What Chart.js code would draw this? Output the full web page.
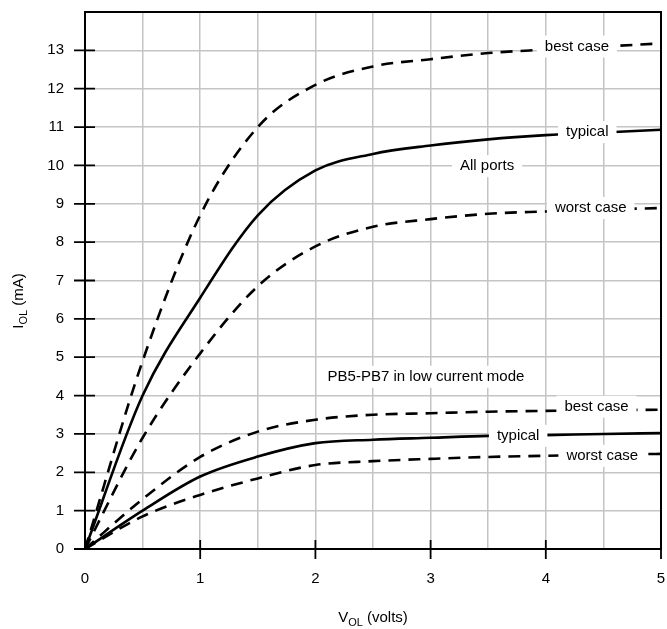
<!DOCTYPE html>
<html>
<head>
<meta charset="utf-8">
<script src="https://cdn.jsdelivr.net/npm/chart.js@4/dist/chart.umd.min.js"></script>
<style>
  body { margin: 0; background: #fff; }
  canvas { display: block; }
</style>
</head>
<body>
<canvas id="chart" width="667" height="629"></canvas>
<script>
// V_OL sample points (volts)
const vol = [0, 0.5, 1, 1.5, 2, 2.5, 3, 3.5, 4, 4.5, 5];

// I_OL (mA), all ports
const allBest = [0, 4.9, 8.7, 11.0, 12.1, 12.58, 12.77, 12.93, 13.02, 13.1, 13.18];
const allTypical = [0, 4.0, 6.55, 8.7, 9.87, 10.3, 10.52, 10.68, 10.79, 10.86, 10.93];
const allWorst = [0, 2.9, 5.1, 6.85, 7.89, 8.4, 8.6, 8.74, 8.8, 8.85, 8.89];

// I_OL (mA), PB5-PB7 in low current mode
const lowBest = [0, 1.3, 2.4, 3.06, 3.37, 3.5, 3.54, 3.58, 3.6, 3.62, 3.63];
const lowTypical = [0, 1.0, 1.89, 2.41, 2.76, 2.85, 2.9, 2.95, 2.97, 3.0, 3.02];
const lowWorst = [0, 0.85, 1.41, 1.84, 2.19, 2.29, 2.35, 2.4, 2.43, 2.46, 2.48];

const xTicks = [0, 1, 2, 3, 4, 5];
const yTicks = [0, 1, 2, 3, 4, 5, 6, 7, 8, 9, 10, 11, 12, 13];

// curve labels: [text, x, y] in data units
const notes = [
  ['best case', 4.27, 13.1],
  ['typical', 4.36, 10.87],
  ['All ports', 3.49, 9.98],
  ['worst case', 4.39, 8.89],
  ['PB5-PB7 in low current mode', 2.96, 4.49],
  ['best case', 4.44, 3.71],
  ['typical', 3.76, 2.95],
  ['worst case', 4.49, 2.43]
];

const FONT = '"Liberation Sans", Arial, Helvetica, sans-serif';

const pts = arr => vol.map((v, i) => ({ x: v, y: arr[i] }));
const series = (data, dashed) => ({
  data: pts(data),
  borderColor: '#000',
  borderWidth: 2.6,
  borderDash: dashed ? [12, 8] : [],
  pointRadius: 0,
  cubicInterpolationMode: 'monotone',
  fill: false
});

// keep the plot box where the reference has it
const noPad = s => {
  s.paddingTop = 0;
  s.paddingBottom = 0;
  s.paddingLeft = 0;
  s.paddingRight = 0;
};

const decor = {
  id: 'decor',
  afterDatasetsDraw(chart) {
    const ctx = chart.ctx;
    const { left, right, top, bottom } = chart.chartArea;
    const xs = chart.scales.x, ys = chart.scales.y;
    ctx.save();

    // note boxes over the lines
    ctx.font = '15px ' + FONT;
    ctx.textAlign = 'center';
    ctx.textBaseline = 'middle';
    notes.forEach(([txt, x, y]) => {
      const px = xs.getPixelForValue(x), py = ys.getPixelForValue(y);
      const w = ctx.measureText(txt).width;
      ctx.fillStyle = '#fff';
      ctx.fillRect(px - w / 2 - 8, py - 11, w + 16, 22);
      ctx.fillStyle = '#000';
      ctx.fillText(txt, px, py);
    });

    // frame
    ctx.strokeStyle = '#000';
    ctx.lineWidth = 2;
    ctx.strokeRect(left, top, right - left, bottom - top);

    // tick marks crossing the axes
    ctx.lineWidth = 1.8;
    ctx.beginPath();
    yTicks.forEach(v => {
      const py = ys.getPixelForValue(v);
      ctx.moveTo(left - 11, py);
      ctx.lineTo(left + 10, py);
    });
    xTicks.slice(1).forEach(v => {
      const px = xs.getPixelForValue(v);
      ctx.moveTo(px, bottom - 9);
      ctx.lineTo(px, bottom + 10);
    });
    ctx.stroke();

    // axis titles with subscripts
    const drawTitle = (main, sub, rest, cx, cy) => {
      ctx.textAlign = 'left';
      ctx.textBaseline = 'alphabetic';
      ctx.font = '15px ' + FONT;
      const w1 = ctx.measureText(main).width;
      const w3 = ctx.measureText(rest).width;
      ctx.font = '11px ' + FONT;
      const w2 = ctx.measureText(sub).width;
      let x0 = cx - (w1 + w2 + w3) / 2;
      ctx.font = '15px ' + FONT;
      ctx.fillText(main, x0, cy);
      ctx.font = '11px ' + FONT;
      ctx.fillText(sub, x0 + w1, cy + 4);
      ctx.font = '15px ' + FONT;
      ctx.fillText(rest, x0 + w1 + w2, cy);
    };
    ctx.fillStyle = '#000';
    drawTitle('V', 'OL', ' (volts)', (left + right) / 2, 622);
    ctx.translate(23, 301);
    ctx.rotate(-Math.PI / 2);
    drawTitle('I', 'OL', ' (mA)', 0, 0);
    ctx.restore();
  }
};

new Chart(document.getElementById('chart'), {
  type: 'line',
  data: {
    datasets: [
      series(allBest, true),
      series(allTypical, false),
      series(allWorst, true),
      series(lowBest, true),
      series(lowTypical, false),
      series(lowWorst, true)
    ]
  },
  options: {
    responsive: false,
    animation: false,
    devicePixelRatio: 1,
    layout: { autoPadding: false, padding: { top: 12, right: 6, left: 0, bottom: 0 } },
    plugins: { legend: { display: false }, tooltip: { enabled: false } },
    scales: {
      x: {
        type: 'linear',
        min: 0,
        max: 5,
        afterFit: s => { s.height = 80; noPad(s); },
        afterBuildTicks: s => {
          s.ticks = vol.map(v => ({ value: v }));
        },
        grid: { color: '#c4c4c4', lineWidth: 1.5, drawTicks: false },
        border: { display: false },
        ticks: {
          color: '#000',
          padding: 21,
          maxRotation: 0,
          font: { family: FONT, size: 15 },
          callback: v => (xTicks.includes(v) ? String(v) : '')
        }
      },
      y: {
        min: 0,
        max: 14,
        afterFit: s => { s.width = 85; noPad(s); },
        afterBuildTicks: s => {
          s.ticks = yTicks.concat([14]).map(v => ({ value: v }));
        },
        grid: { color: '#c4c4c4', lineWidth: 1.5, drawTicks: false },
        border: { display: false },
        ticks: {
          color: '#000',
          padding: 21,
          font: { family: FONT, size: 15 },
          callback: v => (yTicks.includes(v) ? String(v) : '')
        }
      }
    }
  },
  plugins: [decor]
});
</script>
</body>
</html>
